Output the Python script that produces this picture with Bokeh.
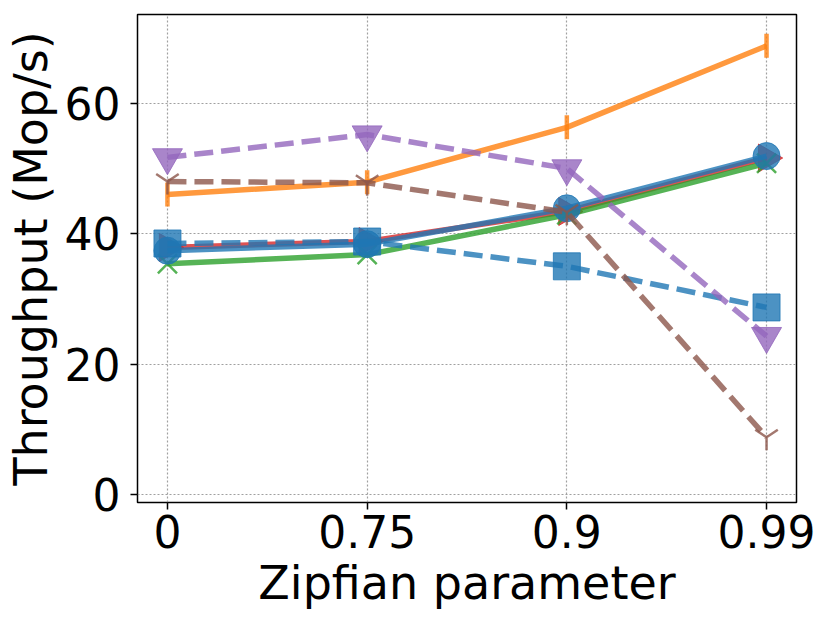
import math
from bokeh.plotting import figure
from bokeh.models import FixedTicker, Range1d
from bokeh.embed import file_html
from bokeh.resources import INLINE

# ---- data ----
zipf_labels = ["0", "0.75", "0.9", "0.99"]
orange_vals = [46.0, 47.9, 56.3, 68.8]
purple_vals = [51.7, 55.2, 50.0, 24.3]
brown_vals = [48.0, 47.8, 43.3, 8.8]
blue_sq_vals = [38.5, 38.8, 35.0, 28.7]
red_vals = [37.9, 38.8, 43.4, 51.6]
green_vals = [35.4, 36.8, 42.9, 50.8]
blue_circ_vals = [37.4, 38.4, 43.9, 51.9]
y_ticks = [0, 20, 40, 60]

x_pos = list(range(len(zipf_labels)))

C_BLUE = "#1f77b4"
C_ORANGE = "#ff7f0e"
C_GREEN = "#2ca02c"
C_RED = "#d62728"
C_PURPLE = "#9467bd"
C_BROWN = "#8c564b"
FONT = "DejaVu Sans"
ALPHA = 0.8
LW = 5.5
DASH = "19 8"

p = figure(width=831, height=627, output_backend="svg", toolbar_location=None,
           x_range=Range1d(-0.15, 3.15), y_range=Range1d(-1.2, 73.6),
           min_border_left=137, min_border_right=35, min_border_top=14, min_border_bottom=125)
p.background_fill_color = "white"
p.border_fill_color = "white"
p.outline_line_color = "black"
p.outline_line_width = 1.5

# axes
p.xaxis.ticker = FixedTicker(ticks=x_pos)
p.xaxis.major_label_overrides = {i: lab for i, lab in enumerate(zipf_labels)}
p.yaxis.ticker = FixedTicker(ticks=y_ticks)
p.xaxis.axis_label = "Zipfian parameter"
p.yaxis.axis_label = "Throughput (Mop/s)"
for ax in (p.xaxis, p.yaxis):
    ax.axis_line_color = None
    ax.major_tick_line_color = "black"
    ax.major_tick_line_width = 1.5
    ax.major_tick_out = 7
    ax.major_tick_in = 0
    ax.minor_tick_out = 0
    ax.minor_tick_in = 0
    ax.major_label_text_font = FONT
    ax.major_label_text_font_size = "44px"
    ax.major_label_text_color = "black"
    ax.axis_label_text_font = FONT
    ax.axis_label_text_font_size = "46px"
    ax.axis_label_text_font_style = "normal"
    ax.axis_label_text_color = "black"
p.xaxis.major_label_standoff = 5
p.xaxis.axis_label_standoff = 5
p.yaxis.major_label_standoff = 10
p.yaxis.axis_label_standoff = 4

for g in (p.xgrid, p.ygrid):
    g.grid_line_color = "#a0a0a0"
    g.grid_line_dash = "2 2"
    g.grid_line_width = 1.2

# ---- solid series ----
p.line(x_pos, red_vals, line_color=C_RED, line_width=LW, line_alpha=ALPHA)
p.scatter(x_pos, red_vals, marker="triangle", angle=-math.pi / 2, size=28,
          fill_color=C_RED, line_color=C_RED, fill_alpha=ALPHA, line_alpha=ALPHA)

p.line(x_pos, green_vals, line_color=C_GREEN, line_width=LW, line_alpha=ALPHA)
p.scatter(x_pos, green_vals, marker="x", size=27, line_color=C_GREEN,
          line_width=2.5, line_alpha=ALPHA)

p.line(x_pos, blue_circ_vals, line_color=C_BLUE, line_width=LW, line_alpha=ALPHA)
p.scatter(x_pos, blue_circ_vals, marker="circle", size=27, fill_color=C_BLUE,
          line_color=C_BLUE, fill_alpha=ALPHA, line_alpha=ALPHA)

p.line(x_pos, orange_vals, line_color=C_ORANGE, line_width=LW, line_alpha=ALPHA)
p.scatter(x_pos, orange_vals, marker="dash", angle=math.pi / 2, size=24,
          line_color=C_ORANGE, line_width=4.5, line_alpha=ALPHA)

# ---- dashed series ----
p.line(x_pos, blue_sq_vals, line_color=C_BLUE, line_width=LW, line_alpha=ALPHA,
       line_dash=DASH)
p.scatter(x_pos, blue_sq_vals, marker="square", size=27, fill_color=C_BLUE,
          line_color=C_BLUE, fill_alpha=ALPHA, line_alpha=ALPHA)

p.line(x_pos, purple_vals, line_color=C_PURPLE, line_width=LW, line_alpha=ALPHA,
       line_dash=DASH)
p.scatter(x_pos, purple_vals, marker="inverted_triangle", size=30,
          fill_color=C_PURPLE, line_color=C_PURPLE, fill_alpha=ALPHA, line_alpha=ALPHA)

p.line(x_pos, brown_vals, line_color=C_BROWN, line_width=LW, line_alpha=ALPHA,
       line_dash=DASH)
p.scatter(x_pos, brown_vals, marker="y", size=26, line_color=C_BROWN,
          line_width=2.5, line_alpha=ALPHA)

open("out.html", "w").write(file_html(p, INLINE))
